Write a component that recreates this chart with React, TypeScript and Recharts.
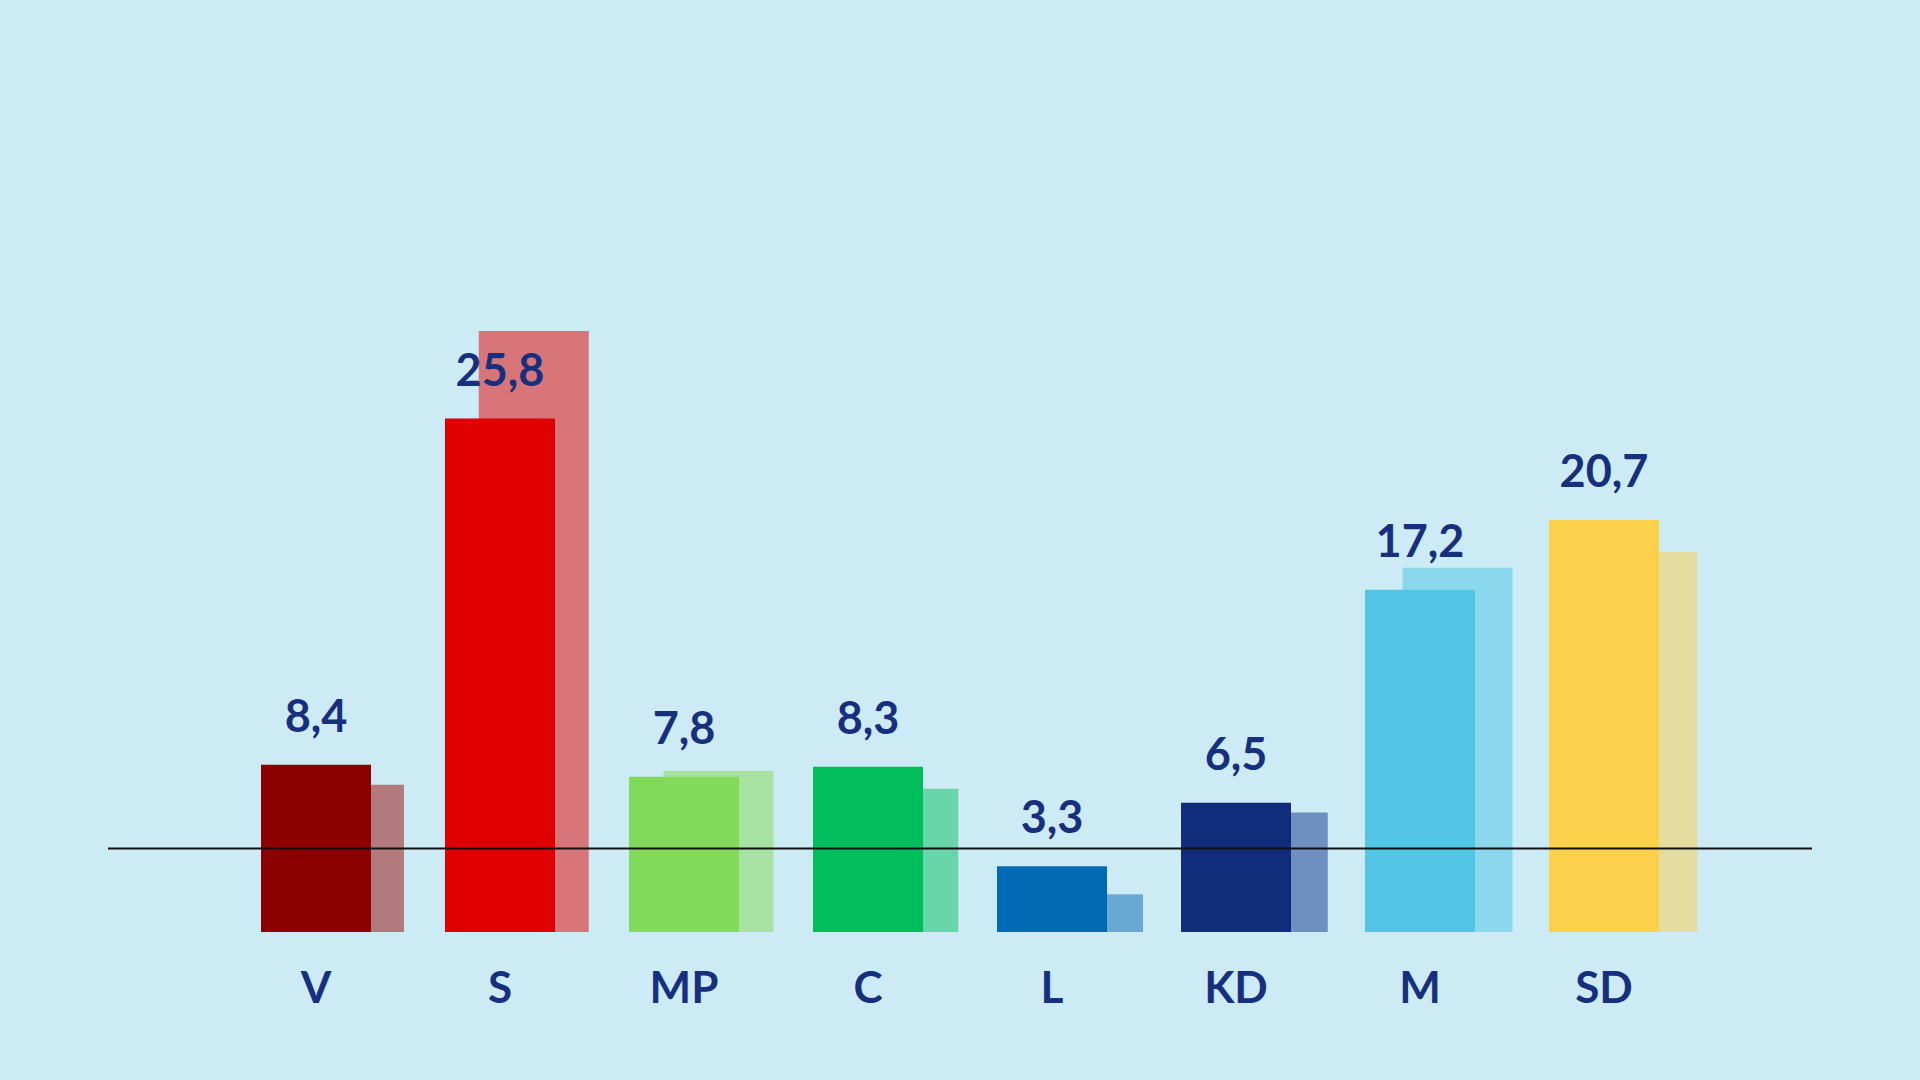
import { Bar, BarChart, Cell, LabelList, ReferenceLine, XAxis, YAxis } from 'recharts';

const parties = ['V', 'S', 'MP', 'C', 'L', 'KD', 'M', 'SD'];
const current = [8.4, 25.8, 7.8, 8.3, 3.3, 6.5, 17.2, 20.7];
const previous = [7.4, 30.2, 8.1, 7.2, 1.9, 6.0, 18.3, 19.1];
const currentColors = ['#8c0000', '#e10000', '#82d95a', '#00be5c', '#006ab4', '#122c7c', '#51c5e3', '#fbd14b'];
const previousColors = ['#b27a7c', '#d77579', '#a7e2a3', '#68d5aa', '#6aa9d4', '#6e8fbf', '#8bd8ec', '#e5dca0'];
const threshold = 4.2;

const textColor = '#16307f';
const font = 'Lato, "Open Sans", sans-serif';

const data = parties.map((party, i) => ({
  party,
  current: current[i],
  previous: previous[i],
}));

const formatValue = (v: number) => v.toFixed(1).replace('.', ',');

export default function App() {
  return (
    <div
      style={{
        position: 'absolute',
        left: 0,
        top: 0,
        width: 1920,
        height: 1080,
        background: '#cdebf5',
        fontFamily: font,
      }}
    >
      <BarChart
        width={1920}
        height={1080}
        data={data}
        margin={{ top: 136, right: 108, bottom: 0, left: 108 }}
      >
        <XAxis
          xAxisId="cur"
          dataKey="party"
          height={148}
          padding={{ left: 116, right: 116 }}
          axisLine={false}
          tickLine={false}
          tickSize={0}
          tickMargin={40}
          tick={{ fill: textColor, fontSize: 44, fontWeight: 700, fontFamily: font }}
        />
        <XAxis xAxisId="prev" dataKey="party" hide padding={{ left: 149, right: 77 }} />
        <YAxis hide domain={[0, 40]} />
        <Bar xAxisId="prev" dataKey="previous" barSize={110} isAnimationActive={false}>
          {data.map((d, i) => (
            <Cell key={d.party} fill={previousColors[i]} />
          ))}
        </Bar>
        <Bar xAxisId="cur" dataKey="current" barSize={110} isAnimationActive={false}>
          {data.map((d, i) => (
            <Cell key={d.party} fill={currentColors[i]} />
          ))}
          <LabelList
            dataKey="current"
            position="top"
            offset={33}
            formatter={formatValue}
            fill={textColor}
            style={{ fontSize: 45, fontWeight: 700, fontFamily: font }}
          />
        </Bar>
        <ReferenceLine xAxisId="cur" y={threshold} stroke="#111" strokeWidth={2} />
      </BarChart>
    </div>
  );
}
